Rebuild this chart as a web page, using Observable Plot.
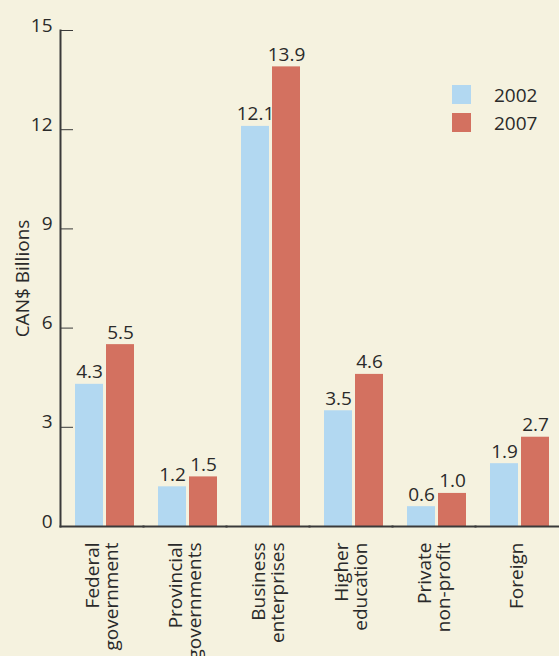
<!DOCTYPE html>
<html><head><meta charset="utf-8">
<script src="https://cdn.jsdelivr.net/npm/d3@7"></script>
<script src="https://cdn.jsdelivr.net/npm/@observablehq/plot@0.6"></script>
<style>
html,body{margin:0;padding:0;background:#f5f2df;}
#chart{position:relative;width:559px;height:656px;font-family:"Open Sans",sans-serif;color:#2a2a2a;}
#chart svg{display:block;}
.legend{position:absolute;left:452px;top:85px;font-size:19px;}
.legend .row{display:flex;align-items:center;height:19px;margin-bottom:9px;}
.legend .sw{display:inline-block;width:19px;height:19px;margin-right:23px;}
</style></head><body><div id="chart"></div>
<script>
const categories = ["Federal\ngovernment","Provincial\ngovernments","Business\nenterprises","Higher\neducation","Private\nnon-profit","Foreign"];
const years = ["2002","2007"];
const values2002 = [4.3, 1.2, 12.1, 3.5, 0.6, 1.9];
const values2007 = [5.5, 1.5, 13.9, 4.6, 1.0, 2.7];
const yTicks = [0, 3, 6, 9, 12, 15];
const colors = ["#b2d8f1", "#d37160"];
const yLabel = "CAN$ Billions";

const data = categories.flatMap((c, i) => [
  {category: c, year: years[0], value: values2002[i]},
  {category: c, year: years[1], value: values2007[i]}
]);

const axisColor = "#3a3a3a";
const chart = Plot.plot({
  width: 559, height: 656,
  marginLeft: 59, marginRight: 0, marginTop: 30, marginBottom: 130,
  style: {background: "transparent", fontFamily: "'Open Sans', sans-serif", fontSize: "19px", color: "#2a2a2a"},
  fx: {domain: categories, padding: 0, label: null},
  x: {domain: years, paddingInner: 0.094, paddingOuter: 0.349, align: 0.63, axis: null},
  y: {domain: [0, 15]},
  color: {domain: years, range: colors},
  marks: [
    Plot.barY(data, {fx: "category", x: "year", y: "value", fill: "year"}),
    Plot.text(data, {fx: "category", x: "year", y: "value", text: d => d3.format(".1f")(d.value), lineAnchor: "bottom", dy: -6, fill: "#2a2a2a"}),
    Plot.frame({anchor: "bottom", stroke: axisColor, strokeWidth: 2}),
    Plot.frame({anchor: "left", facetAnchor: "left", stroke: axisColor, strokeWidth: 2}),
    Plot.axisY({ticks: yTicks, tickSize: -13, tickFormat: () => "", stroke: axisColor, label: null}),
    Plot.axisY({ticks: yTicks, tickSize: 0, tickPadding: 8, dy: -5, label: yLabel, labelAnchor: "center", labelOffset: 45, labelArrow: "none"}),
    Plot.axisFx({anchor: "bottom", tickSize: 0, tickRotate: -90, tickPadding: 16, label: null, tickFormat: d => d})
  ]
});
const root = document.getElementById("chart");
root.appendChild(chart);

const legend = document.createElement("div");
legend.className = "legend";
years.forEach((y, i) => {
  const row = document.createElement("div");
  row.className = "row";
  const sw = document.createElement("span");
  sw.className = "sw";
  sw.style.background = colors[i];
  const t = document.createElement("span");
  t.textContent = y;
  row.appendChild(sw); row.appendChild(t);
  legend.appendChild(row);
});
root.appendChild(legend);
</script>
</body></html>
